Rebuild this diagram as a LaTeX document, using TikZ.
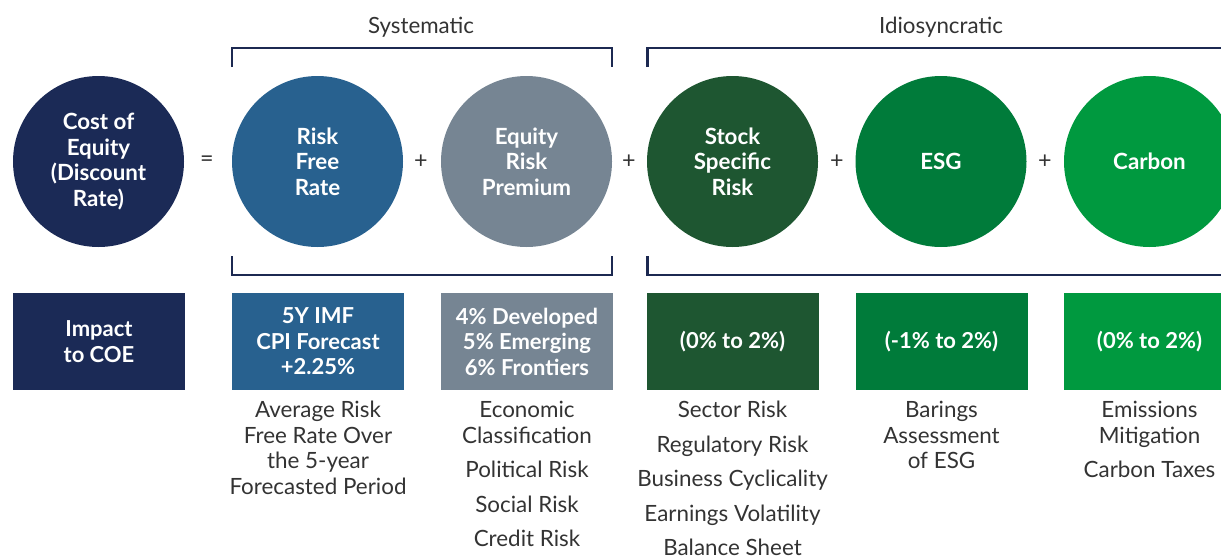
\documentclass[tikz,border=0pt]{standalone}
\usepackage{fontspec}
\setmainfont{Lato}
\definecolor{coenavy}{HTML}{1B2A56}
\definecolor{rfblue}{HTML}{28618F}
\definecolor{erpgray}{HTML}{768593}
\definecolor{ssgreen}{HTML}{1E5631}
\definecolor{esggreen}{HTML}{007B3A}
\definecolor{carbgreen}{HTML}{00993F}
\definecolor{bodytext}{HTML}{333333}
\definecolor{braceline}{HTML}{1C2951}
\begin{document}
\begin{tikzpicture}[x=0.75pt,y=-0.75pt,
  disc/.style={circle, minimum size=128.25pt, inner sep=0pt, text=white, align=center,
    font=\bfseries\fontsize{16.75}{19.1}\selectfont},
  tile/.style={rectangle, minimum width=129pt, minimum height=72.75pt, inner sep=0pt,
    text=white, align=center, font=\bfseries\fontsize{16.5}{19.1}\selectfont},
  note/.style={text=bodytext, align=center, inner sep=0pt,
    font=\fontsize{16.8}{19.1}\selectfont},
  op/.style={text=bodytext, inner sep=0pt, font=\fontsize{17.5}{20}\selectfont},
  head/.style={text=bodytext, inner sep=0pt, font=\fontsize{16.75}{20}\selectfont},
  brace/.style={draw=braceline, line width=1.9pt}]
\useasboundingbox (0,0) rectangle (1221,557);
\clip (0,0) rectangle (1221,557);

% group headings
\node[head] (hsys) at (421,27) {Systematic};
\node[head] (hidio) at (941,27) {Idiosyncratic};

% brackets around the two groups
\draw[brace] (232,67) -- (232,48) -- (612,48) -- (612,67);
\draw[brace] (232,256) -- (232,275) -- (612,275) -- (612,256);
\draw[brace] (647.5,67) -- (647.5,48) -- (1240,48);
\draw[brace] (647.5,256) -- (647.5,275) -- (1240,275);

% components of the cost of equity
\node[disc, fill=coenavy] (coe) at (98.5,161.5) {Cost of\\Equity\\(Discount\\Rate)};
\node[disc, fill=rfblue] (rf) at (317.5,161.5) {Risk\\Free\\Rate};
\node[disc, fill=erpgray] (erp) at (526.5,161.5) {Equity\\Risk\\Premium};
\node[disc, fill=ssgreen] (ssr) at (732.5,161.5) {Stock\\Specific\\Risk};
\node[disc, fill=esggreen] (esg) at (941,161.5) {ESG};
\node[disc, fill=carbgreen] (carb) at (1149.5,161.5) {Carbon};

% operators
\node[op] (eq) at (207,161.5) {=};
\node[op] (p1) at (421,161.5) {+};
\node[op] (p2) at (629,161.5) {+};
\node[op] (p3) at (837,161.5) {+};
\node[op] (p4) at (1045,161.5) {+};

% impact boxes
\node[tile, fill=coenavy] (tcoe) at (99,341.5) {Impact\\to COE};
\node[tile, fill=rfblue] (trf) at (318,341.5) {5Y IMF\\CPI Forecast\\+2.25\%};
\node[tile, fill=erpgray] (terp) at (527,341.5) {4\% Developed\\5\% Emerging\\6\% Frontiers};
\node[tile, fill=ssgreen] (tssr) at (732.5,341.5) {(0\% to 2\%)};
\node[tile, fill=esggreen] (tesg) at (941.5,341.5) {(-1\% to 2\%)};
\node[tile, fill=carbgreen] (tcarb) at (1149.5,341.5) {(0\% to 2\%)};

% drivers under each box
\node[note] (nrf) at (318,451) {\strut Average Risk\\\strut Free Rate Over\\\strut the 5-year\\\strut Forecasted Period};

\node[note] (nerp1) at (527,425.5) {\strut Economic\\\strut Classification};
\node[note] (nerp2) at (527,472.5) {\strut Political Risk};
\node[note] (nerp3) at (527,507.5) {\strut Social Risk};
\node[note] (nerp4) at (527,541.5) {\strut Credit Risk};

\node[note] (nss1) at (732.5,412.5) {\strut Sector Risk};
\node[note] (nss2) at (732.5,447.5) {\strut Regulatory Risk};
\node[note] (nss3) at (732.5,481.5) {\strut Business Cyclicality};
\node[note] (nss4) at (732.5,516.5) {\strut Earnings Volatility};
\node[note] (nss5) at (732.5,550.5) {\strut Balance Sheet};

\node[note] (nesg) at (941.5,438) {\strut Barings\\\strut Assessment\\\strut of ESG};

\node[note] (ncarb1) at (1149.5,425.5) {\strut Emissions\\\strut Mitigation};
\node[note] (ncarb2) at (1149.5,472.5) {\strut Carbon Taxes};
\end{tikzpicture}
\end{document}
